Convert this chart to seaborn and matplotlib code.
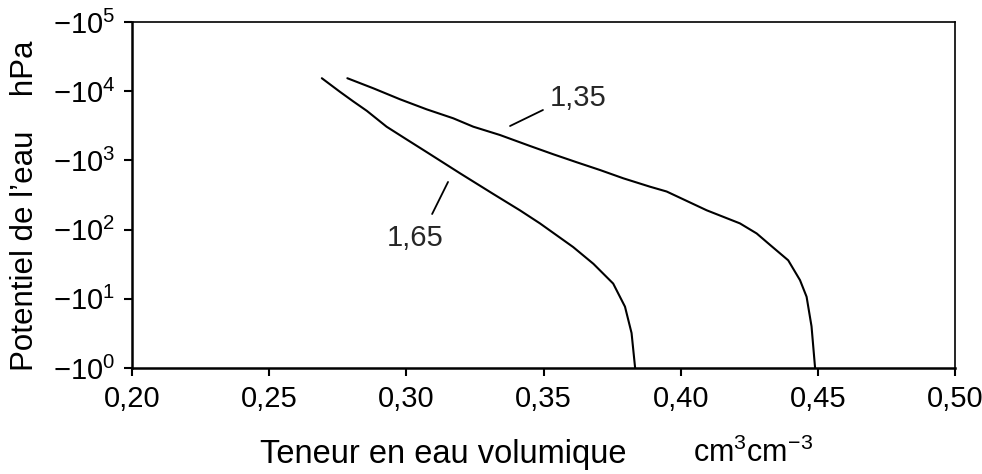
import matplotlib
matplotlib.use("Agg")
import matplotlib.pyplot as plt
import matplotlib.ticker as mticker
import numpy as np
import pandas as pd
import seaborn as sns

sns.set_theme(style="white")
plt.rcParams["font.family"] = ["Liberation Sans", "DejaVu Sans"]
plt.rcParams["mathtext.fontset"] = "custom"
plt.rcParams["mathtext.rm"] = "Liberation Sans"
plt.rcParams["mathtext.default"] = "regular"

# water retention curves (theta in cm3/cm3, potential in hPa)
theta_165 = [0.2692, 0.2758, 0.2807, 0.2856, 0.2928, 0.3001, 0.3074, 0.3196, 0.3317,
             0.3414, 0.3487, 0.3608, 0.3682, 0.3754, 0.3797, 0.3821, 0.3834]
pot_165 = [-15400, -9800, -7100, -5200, -3070, -2010, -1320, -650, -327,
           -190, -123, -56, -32, -16.6, -7.7, -3.2, -1.0]

theta_135 = [0.2785, 0.2880, 0.2977, 0.3074, 0.3171, 0.3244, 0.3341, 0.3451, 0.3536,
             0.3621, 0.3706, 0.3791, 0.3888, 0.3949, 0.4095, 0.4216, 0.4277, 0.4326,
             0.4392, 0.4435, 0.4459, 0.4477, 0.4490]
pot_135 = [-15400, -11000, -7640, -5470, -4060, -3070, -2330, -1615, -1225,
           -940, -726, -551, -417, -355, -190, -123, -88, -60,
           -36, -18.6, -10.7, -4.0, -1.0]

x_ticks = [0.20, 0.25, 0.30, 0.35, 0.40, 0.45, 0.50]
y_ticks = [1, 10, 100, 1000, 10000, 100000]

df = pd.concat([
    pd.DataFrame({"theta": theta_165, "pot": pot_165, "da": "1,65"}),
    pd.DataFrame({"theta": theta_135, "pot": pot_135, "da": "1,35"}),
])
df["suction"] = -df["pot"]

fig = plt.figure(figsize=(9.82, 4.74), dpi=100)
ax = fig.add_axes([132 / 982, 1 - 368 / 474, (955 - 132) / 982, (368 - 22) / 474])

sns.lineplot(data=df, x="theta", y="suction", units="da", estimator=None, sort=False,
             color="black", linewidth=1.5, ax=ax, legend=False)

ax.set_yscale("log")
ax.set_xlim(0.20, 0.50)
ax.set_ylim(1, 100000)
ax.set_xticks(x_ticks)
ax.set_yticks(y_ticks)
ax.yaxis.set_minor_locator(mticker.NullLocator())
ax.xaxis.set_major_formatter(mticker.FuncFormatter(lambda v, p: f"{v:.2f}".replace(".", ",")))
ax.yaxis.set_major_formatter(mticker.FuncFormatter(
    lambda v, p: rf"$-10^{{{int(round(np.log10(v)))}}}$"))
ax.tick_params(axis="both", which="major", direction="out", length=6, width=1.5,
               color="black", labelsize=21, labelcolor="black", pad=6, left=True, bottom=True)

for side in ["left", "bottom"]:
    ax.spines[side].set_linewidth(1.8)
    ax.spines[side].set_color("black")
for side in ["top", "right"]:
    ax.spines[side].set_linewidth(1.2)
    ax.spines[side].set_color("black")

ax.set_xlabel("")
fig.text(443 / 982, 1 - 455 / 474, "Teneur en eau volumique", fontsize=23.5,
         ha="center", va="center", color="black")
fig.text(693 / 982, 1 - 453 / 474, "cm$^{3}$cm$^{-3}$", fontsize=22,
         ha="left", va="center", color="black")
ax.set_ylabel("Potentiel de l\u2019eau    hPa", fontsize=22.5, color="black")
ax.yaxis.set_label_coords(-0.112, 0.47)

# curve labels with leader lines
ax.plot([0.3378, 0.3498], [3140, 5350], color="black", lw=1.3)
ax.text(0.3626, 7960, "1,35", fontsize=21, ha="center", va="center")
ax.plot([0.3152, 0.3094], [488, 168], color="black", lw=1.3)
ax.text(0.3032, 76, "1,65", fontsize=21, ha="center", va="center")

fig.savefig("out.png", dpi=100)
